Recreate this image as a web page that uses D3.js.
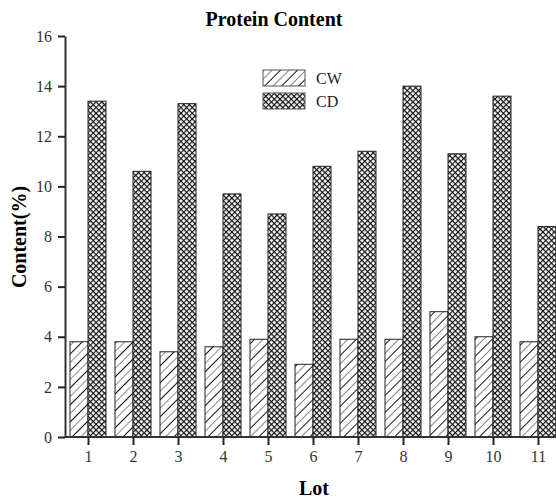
<!DOCTYPE html>
<html>
<head>
<meta charset="utf-8">
<script src="https://cdn.jsdelivr.net/npm/d3@7"></script>
<style>
  body { margin: 0; background: #fff; }
  svg { display: block; font-family: "Liberation Serif", "Times New Roman", serif; }
</style>
</head>
<body>
<div id="chart"></div>
<script>
// data
const lots = ["1", "2", "3", "4", "5", "6", "7", "8", "9", "10", "11"];
const cwValues = [3.8, 3.8, 3.4, 3.6, 3.9, 2.9, 3.9, 3.9, 5.0, 4.0, 3.8];
const cdValues = [13.4, 10.6, 13.3, 9.7, 8.9, 10.8, 11.4, 14.0, 11.3, 13.6, 8.4];
const yTicks = [0, 2, 4, 6, 8, 10, 12, 14, 16];
const seriesNames = ["CW", "CD"];

const W = 556, H = 501;
const margin = { top: 36, right: 0, bottom: 64, left: 65 };
const width = W - margin.left - margin.right;
const height = H - margin.top - margin.bottom;

const svg = d3.select("#chart").append("svg")
    .attr("width", W)
    .attr("height", H);

// patterns
const defs = svg.append("defs");
const hatch = defs.append("pattern")
    .attr("id", "hatchCW")
    .attr("patternUnits", "userSpaceOnUse")
    .attr("width", 12).attr("height", 12)
    .attr("patternTransform", "rotate(45)");
hatch.append("rect").attr("width", 12).attr("height", 12).attr("fill", "#fff");
hatch.append("line").attr("x1", 0.5).attr("y1", 0).attr("x2", 0.5).attr("y2", 12)
    .attr("stroke", "#111").attr("stroke-width", 1);
hatch.append("line").attr("x1", 6.5).attr("y1", 0).attr("x2", 6.5).attr("y2", 12)
    .attr("stroke", "#888").attr("stroke-width", 1);

const cross = defs.append("pattern")
    .attr("id", "crossCD")
    .attr("patternUnits", "userSpaceOnUse")
    .attr("width", 4).attr("height", 4)
    .attr("patternTransform", "rotate(45)");
cross.append("rect").attr("width", 4).attr("height", 4).attr("fill", "#fff");
cross.append("path").attr("d", "M0,0.5H4M0.5,0V4")
    .attr("stroke", "#111").attr("stroke-width", 1.3);

const g = svg.append("g").attr("transform", `translate(${margin.left},${margin.top})`);

const x = d3.scalePoint()
    .domain(lots)
    .range([23, 23 + 45 * (lots.length - 1)]);

const y = d3.scaleLinear()
    .domain([0, 16])
    .range([height, 0]);

const barW = 18;
const offsets = [-barW, 0];
const fills = ["url(#hatchCW)", "url(#crossCD)"];

[cwValues, cdValues].forEach((vals, si) => {
    g.append("g").selectAll("rect")
        .data(vals)
        .enter()
        .append("rect")
        .attr("x", (d, i) => x(lots[i]) + offsets[si])
        .attr("y", d => y(d))
        .attr("width", barW)
        .attr("height", d => y(0) - y(d))
        .attr("fill", fills[si])
        .attr("stroke", "#222")
        .attr("stroke-width", 1);
});

// axes
const yAxis = g.append("g")
    .call(d3.axisLeft(y).tickValues(yTicks).tickSize(7).tickPadding(6).tickSizeOuter(0));
const xAxis = g.append("g")
    .attr("transform", `translate(0,${height})`)
    .call(d3.axisBottom(x).tickSize(8).tickPadding(6).tickSizeOuter(0));

[yAxis, xAxis].forEach(ax => {
    ax.select(".domain").attr("stroke", "#333").attr("stroke-width", 2);
    ax.selectAll(".tick line").attr("stroke", "#222").attr("stroke-width", 2);
    ax.selectAll(".tick text")
        .attr("fill", "#333")
        .style("font-size", "16px")
        .style("font-family", "'Liberation Serif', serif");
});
xAxis.select(".domain").attr("d", `M0,0H${width}`);

// legend
const legend = svg.append("g").attr("transform", "translate(263,70)");
seriesNames.forEach((name, i) => {
    legend.append("rect")
        .attr("x", 0).attr("y", i * 23)
        .attr("width", 42).attr("height", 16)
        .attr("fill", fills[i])
        .attr("stroke", "#555")
        .attr("stroke-width", 1);
    legend.append("text")
        .attr("x", 53).attr("y", i * 23 + 14)
        .style("font-size", "16px")
        .attr("fill", "#222")
        .text(name);
});

// titles
svg.append("text")
    .attr("x", 274).attr("y", 26)
    .attr("text-anchor", "middle")
    .style("font-size", "20px")
    .style("font-weight", "bold")
    .text("Protein Content");

svg.append("text")
    .attr("x", 314).attr("y", 495)
    .attr("text-anchor", "middle")
    .style("font-size", "20px")
    .style("font-weight", "bold")
    .text("Lot");

svg.append("text")
    .attr("transform", "translate(26,237) rotate(-90)")
    .attr("text-anchor", "middle")
    .style("font-size", "20px")
    .style("font-weight", "bold")
    .text("Content(%)");
</script>
</body>
</html>
